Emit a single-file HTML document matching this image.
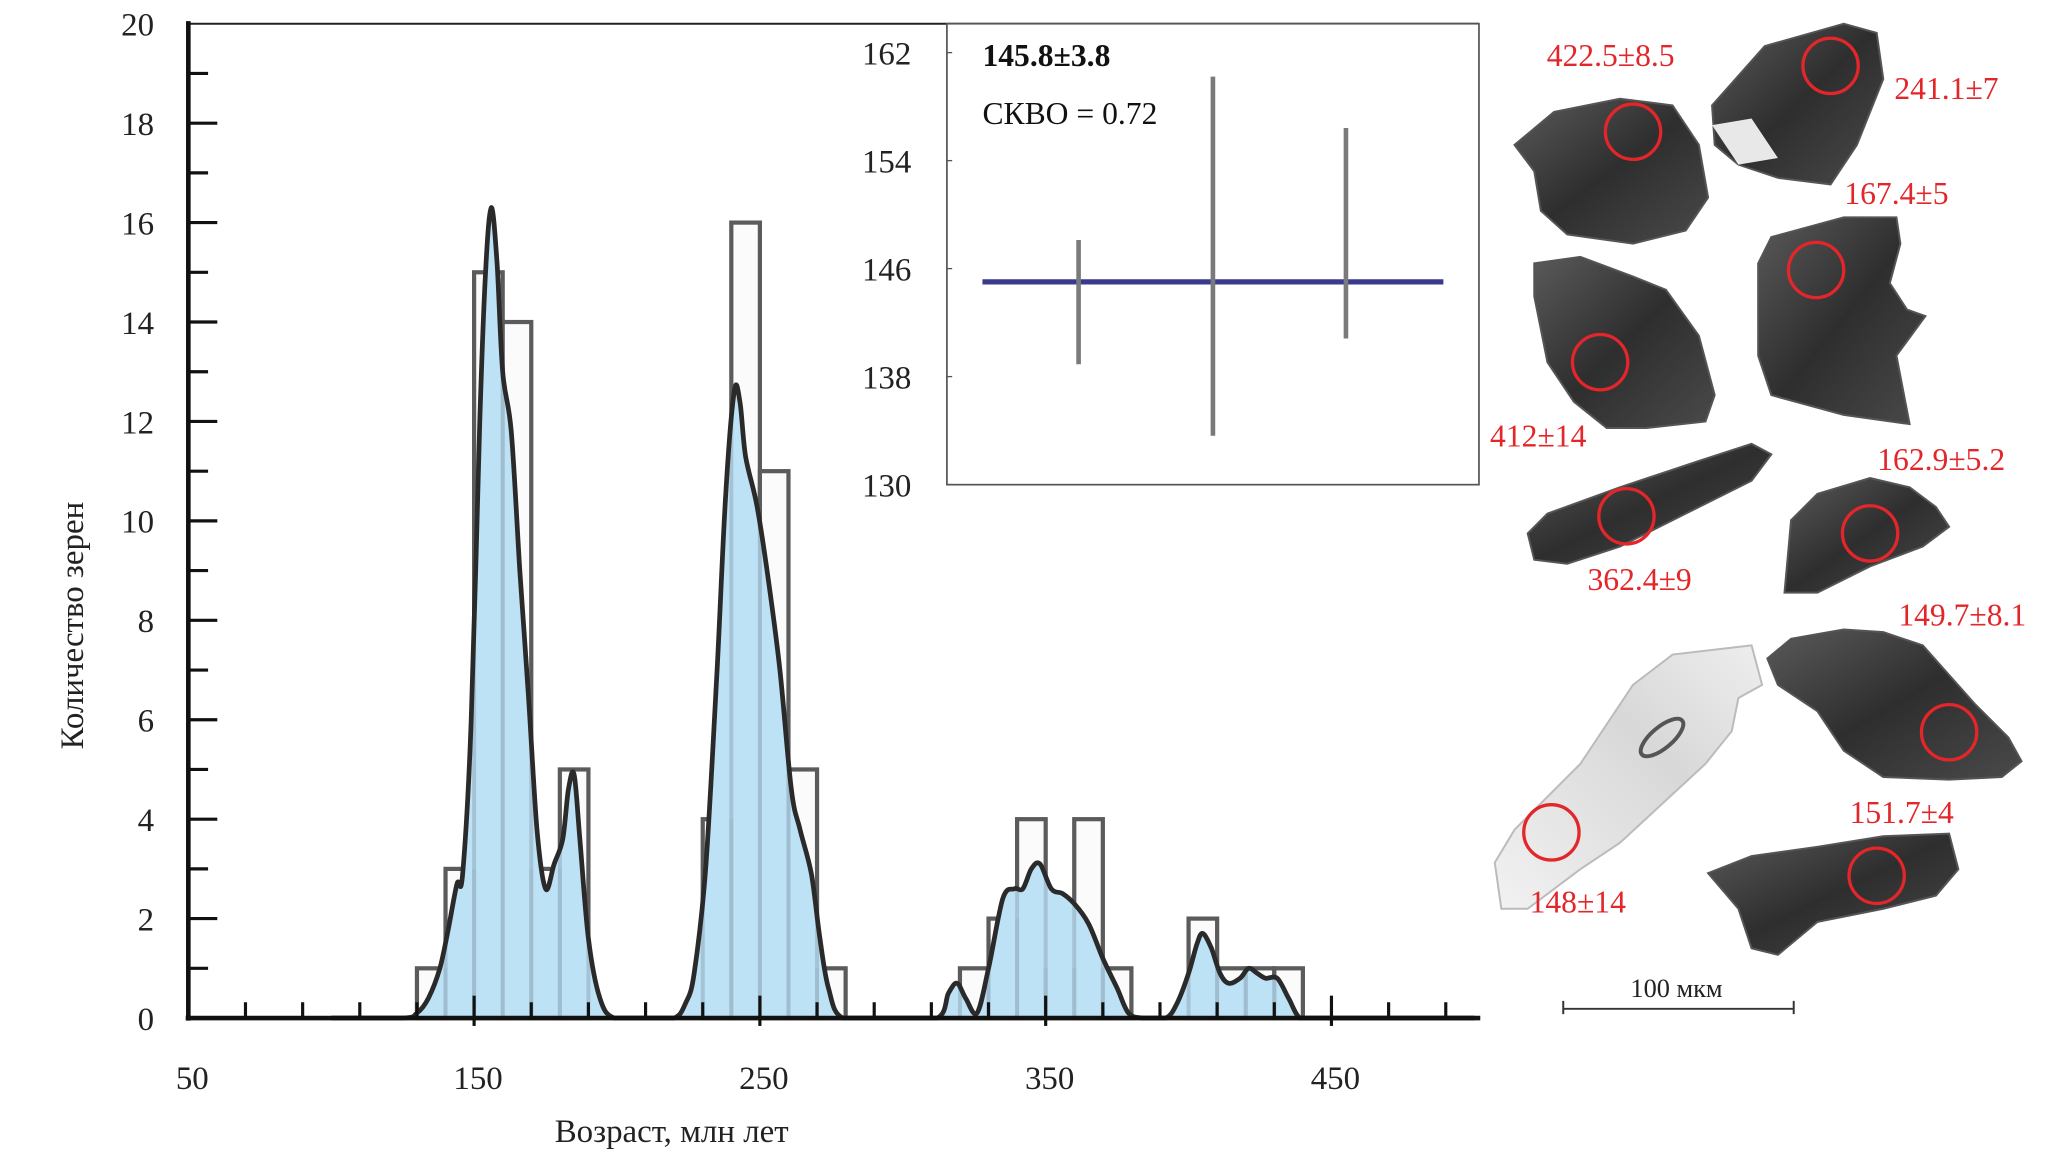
<!DOCTYPE html>
<html><head><meta charset="utf-8"><style>
html,body{margin:0;padding:0;background:#fff;}
svg{display:block;font-family:"Liberation Serif","DejaVu Serif",serif;}
</style></head><body>
<svg id="chart" width="2055" height="1162" viewBox="0 0 1560.4 882.3" xmlns="http://www.w3.org/2000/svg">
<defs>
<linearGradient id="gDark" x1="0" y1="0" x2="1" y2="1"><stop offset="0" stop-color="#5a5a5a"/><stop offset="0.5" stop-color="#2e2e2e"/><stop offset="1" stop-color="#4a4a4a"/></linearGradient>
<linearGradient id="gLight" x1="0" y1="1" x2="1" y2="0"><stop offset="0" stop-color="#f2f2f2"/><stop offset="0.6" stop-color="#d8d8d8"/><stop offset="1" stop-color="#eeeeee"/></linearGradient>
<clipPath id="kdeClip"><path id="kdeClipPath" d=""/></clipPath>
</defs>
<g id="main"></g>
<g id="inset"></g>
<g id="grains"></g>
</svg>
<script>
// ---- Histogram data ----
const binStarts = [130,140,150,160,170,180, 230,240,250,260,270, 320,330,340,350,360,370, 400,410,420,430];
const binCounts = [1,3,15,14,3,5, 4,16,11,5,1, 1,2,4,1,4,1, 2,1,1,1];
const binWidth = 10;
// ---- KDE curve (age, count) ----
const kdeAges = [100,125,130,134,138,141,144,146,149,152,154,156,158,160,163,166,169,172,175,178,181,183,185,187,190,194,199,210,
  220,224,227,231,235,238,241,243,245,249,253,257,261,264,268,271,274,279,295,
  312,316,319,322,326,330,335,339,342,345,348,352,356,360,365,370,375,379,384,
  392,396,400,403,405,408,411,414,418,421,424,427,431,435,439,445,500];
const kdeCounts = [0,0,0.1,0.4,1.0,1.8,2.7,2.9,6,12,15,16.3,15.2,13,11.8,9,6.5,3.8,2.6,3.1,3.6,4.6,4.9,3.6,1.6,0.4,0,0,
  0,0.3,0.9,3,7,10.5,12.6,12.4,11.3,10.3,8.8,7,4.6,3.8,2.9,1.6,0.6,0,0,
  0,0.5,0.7,0.4,0.1,1.0,2.4,2.6,2.6,3.0,3.1,2.6,2.5,2.3,1.9,1.2,0.6,0.1,0,
  0,0.3,0.9,1.5,1.7,1.4,0.9,0.7,0.8,1.0,0.9,0.8,0.8,0.4,0,0,0];
const yTicks = [0,2,4,6,8,10,12,14,16,18,20];
const xTickLabels = [50,150,250,350,450];
// ---- Inset data ----
const insetTicks = [162,154,146,138,130];
const spotMeans = [144.3,147.7,149.4];
const spotErrors = [4.6,13.3,7.8];
const weightedMean = 145.8;

const NS='http://www.w3.org/2000/svg';
function mk(tag, attrs, parent){const e=document.createElementNS(NS,tag);for(const k in attrs)e.setAttribute(k,attrs[k]);parent.appendChild(e);return e;}
const main=document.getElementById('main');
const X=v=>143+(v-50)*2.17;
const Y=c=>773-c*37.75;

// frame top line
let e=mk('line',{x1:143,y1:18,x2:1123,y2:18,stroke:'#222','stroke-width':1.5},main);


// histogram bars
binStarts.forEach((s,i)=>{
  const r=mk('rect',{x:X(s),y:Y(binCounts[i]),width:X(s+binWidth)-X(s),height:Y(0)-Y(binCounts[i]),fill:'#fbfbfb',stroke:'#5b5b5b','stroke-width':3.2},main);
  
  
});

// KDE path (Catmull-Rom)
function smooth(xs,ys){
  const p=xs.map((a,i)=>[X(a),Y(ys[i])]);
  let d='M'+p[0][0]+','+p[0][1];
  for(let i=0;i<p.length-1;i++){
    const p0=p[i-1]||p[i],p1=p[i],p2=p[i+1],p3=p[i+2]||p2;
    const c1=[p1[0]+(p2[0]-p0[0])/6,p1[1]+(p2[1]-p0[1])/6];
    const c2=[p2[0]-(p3[0]-p1[0])/6,p2[1]-(p3[1]-p1[1])/6];
    c1[1]=Math.min(c1[1],773);c2[1]=Math.min(c2[1],773);
    d+=' C'+c1[0].toFixed(1)+','+c1[1].toFixed(1)+' '+c2[0].toFixed(1)+','+c2[1].toFixed(1)+' '+p2[0].toFixed(1)+','+p2[1].toFixed(1);
  }
  return d;
}
const kd=smooth(kdeAges,kdeCounts);
const fillD=kd+' L'+X(kdeAges[kdeAges.length-1])+','+Y(0)+' L'+X(kdeAges[0])+','+Y(0)+' Z';
document.getElementById('kdeClipPath').setAttribute('d',fillD);
e=mk('path',{d:fillD,fill:'#bde1f5'},main);

// bin edges through fill
const edges=mk('g',{'clip-path':'url(#kdeClip)'},main);
binStarts.forEach((s,i)=>{
  [s,s+binWidth].forEach(v=>{
    const l=mk('line',{x1:X(v),y1:Y(binCounts[i]),x2:X(v),y2:Y(0),stroke:'#9fbccd','stroke-width':3,opacity:0.8},edges);
    
    
  });
});
e=mk('path',{d:kd,fill:'none',stroke:'#2a2a2a','stroke-width':3.6,'stroke-linejoin':'round'},main);


// axes
e=mk('line',{x1:143,y1:16,x2:143,y2:775,stroke:'#111','stroke-width':3.5},main);

e=mk('line',{x1:141,y1:773,x2:1124,y2:773,stroke:'#111','stroke-width':3.5},main);

for(let c=1;c<=19;c++){
  const t=mk('line',{x1:143,y1:Y(c),x2:c%2===0?165:158,y2:Y(c),stroke:'#111','stroke-width':2.4},main);
  
  
}
for(let v=70;v<=490;v+=20){
  const major=(v-50)%100===0;
  const t=mk('line',{x1:X(v),y1:major?779:773,x2:X(v),y2:major?756:761,stroke:'#111','stroke-width':2.4},main);
  
  
}
yTicks.forEach(c=>{
  const t=mk('text',{x:117,y:Y(c)+9,'text-anchor':'end','font-size':25,fill:'#222'},main);
  t.textContent=c;
  
  
});
xTickLabels.forEach(v=>{
  const t=mk('text',{x:X(v)+3,y:827,'text-anchor':'middle','font-size':25,fill:'#222'},main);
  t.textContent=v;
  
  
});
e=mk('text',{x:510,y:867,'text-anchor':'middle','font-size':25,fill:'#222'},main);
e.textContent='Возраст, млн лет';
e=mk('text',{x:0,y:0,'text-anchor':'middle','font-size':25,fill:'#222',transform:'translate(63,475) rotate(-90)'},main);
e.textContent='Количество зерен';

// ---- Inset ----
const inset=document.getElementById('inset');
const IY=v=>214-(v-weightedMean)*10.25;
e=mk('rect',{x:719,y:18,width:404,height:350,fill:'#fff',stroke:'#555','stroke-width':1.3},inset);

insetTicks.forEach(v=>{
  const t=mk('text',{x:692,y:IY(v)+1,'text-anchor':'end','font-size':25,fill:'#222'},inset);
  t.textContent=v;
  
  
  const l=mk('line',{x1:719,y1:IY(v)-8,x2:723,y2:IY(v)-8,stroke:'#555','stroke-width':1},inset);
  
  
});
e=mk('line',{x1:746,y1:IY(weightedMean),x2:1096,y2:IY(weightedMean),stroke:'#3a3a8c','stroke-width':4},inset);

const spotX=[819,921,1022];
spotMeans.forEach((m,i)=>{
  const l=mk('line',{x1:spotX[i],y1:IY(m+spotErrors[i]),x2:spotX[i],y2:IY(m-spotErrors[i]),stroke:'#7a7a7a','stroke-width':3.5},inset);
  
  
});
e=mk('text',{x:746,y:50,'font-size':24,'font-weight':'bold',fill:'#111'},inset);
e.textContent='145.8±3.8';
e=mk('text',{x:746,y:94,'font-size':24,fill:'#111'},inset);
e.textContent='СКВО = 0.72';

// ---- Zircon grains ----
const grains=document.getElementById('grains');
const grainShapes=[
 ['M1150,110 L1180,85 L1230,75 L1270,80 L1290,110 L1297,150 L1280,175 L1240,185 L1190,178 L1170,160 L1165,130 Z','gDark',1240,100,'422.5±8.5',1223,50],
 ['M1300,80 L1340,35 L1400,18 L1425,25 L1430,60 L1410,110 L1390,140 L1350,135 L1320,125 L1302,110 Z','gDark',1390,50,'241.1±7',1478,75],
 ['M1335,200 L1345,180 L1400,165 L1440,165 L1443,185 L1435,215 L1448,235 L1462,240 L1440,270 L1450,322 L1400,315 L1345,300 L1335,270 Z','gDark',1379,205,'167.4±5',1440,155],
 ['M1165,225 L1165,200 L1200,195 L1240,210 L1265,220 L1290,255 L1302,300 L1295,320 L1250,325 L1220,325 L1195,305 L1175,275 Z','gDark',1215,275,'412±14',1168,339],
 ['M1360,395 L1380,375 L1420,363 L1450,370 L1470,385 L1480,400 L1460,415 L1420,430 L1380,450 L1355,450 Z','gDark',1420,405,'162.9±5.2',1474,357],
 ['M1160,405 L1175,390 L1230,370 L1290,350 L1330,337 L1345,345 L1330,365 L1280,390 L1230,415 L1190,428 L1165,425 Z','gDark',1235,392,'362.4±9',1245,448],
 ['M1342,500 L1360,485 L1400,478 L1430,480 L1460,490 L1500,535 L1525,560 L1535,578 L1520,590 L1480,592 L1430,590 L1400,570 L1380,540 L1350,520 Z','gDark',1480,556,'149.7±8.1',1490,475],
 ['M1135,655 L1150,630 L1200,580 L1240,520 L1270,497 L1330,490 L1338,520 L1320,530 L1315,555 L1295,580 L1230,640 L1200,660 L1160,690 L1140,690 Z','gLight',1178,632,'148±14',1198,693],
 ['M1297,663 L1330,650 L1380,643 L1430,635 L1480,633 L1487,660 L1470,680 L1430,690 L1380,700 L1350,725 L1330,720 L1320,690 Z','gDark',1425,665,'151.7±4',1444,625]
];
grainShapes.forEach(g=>{
  const p=mk('path',{d:g[0],fill:'url(#'+g[1]+')',stroke:g[1]==='gLight'?'#bbb':'#555','stroke-width':1.5},grains);
  
  
  const c=mk('circle',{cx:g[2],cy:g[3],r:21,fill:'none',stroke:'#e3262a','stroke-width':2.5},grains);
  
  
  const t=mk('text',{x:g[5],y:g[6],'text-anchor':'middle','font-size':24,fill:'#e3262a'},grains);
  t.textContent=g[4];
  
  
});
// extra detail on grain 8
e=mk('ellipse',{cx:1262,cy:560,rx:20,ry:8,fill:'none',stroke:'#555','stroke-width':3,transform:'rotate(-40 1262 560)'},grains);

e=mk('path',{d:'M1300,95 L1330,90 L1350,120 L1320,125 Z',fill:'#e8e8e8'},grains);

// scale bar
e=mk('path',{d:'M1187,760 L1187,770 M1187,766 L1362,766 M1362,760 L1362,770',stroke:'#333','stroke-width':1.5,fill:'none'},grains);

e=mk('text',{x:1273,y:757,'text-anchor':'middle','font-size':20,fill:'#222'},grains);
e.textContent='100 мкм';
</script>
</body></html>
